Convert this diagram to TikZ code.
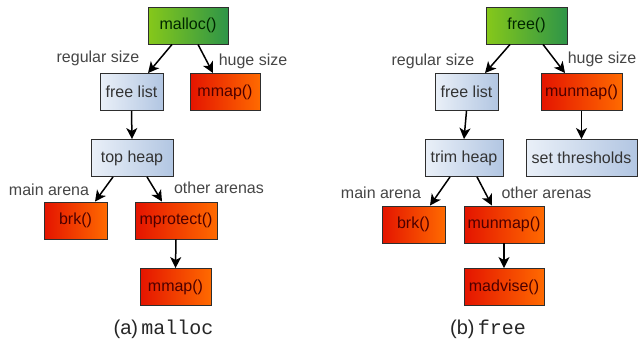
\documentclass[tikz,border=0pt]{standalone}
\usepackage{fontspec}
\setmainfont{Liberation Sans}
\setmonofont{Liberation Mono}
\usetikzlibrary{arrows.meta}
\definecolor{greenL}{HTML}{86C81A}
\definecolor{greenR}{HTML}{2E9548}
\definecolor{redL}{HTML}{E41400}
\definecolor{redR}{HTML}{FF6A00}
\definecolor{blueL}{HTML}{EAF0F8}
\definecolor{blueR}{HTML}{B2C6E2}
\definecolor{edge}{HTML}{2E2E2E}
\definecolor{labelgray}{HTML}{454545}
\tikzset{
  box/.style={draw=edge, line width=0.9pt, inner sep=0pt, minimum height=37pt,
    font=\fontsize{16}{18}\selectfont, shading=axis, shading angle=90},
  callbox/.style={box, left color=greenL, right color=greenR, text=black!85!green},
  listbox/.style={box, left color=blueL, right color=blueR, text=black!80},
  sysbox/.style={box, left color=redL, right color=redR, text=black!70!red},
  flow/.style={-{Stealth[length=11pt,width=11pt,inset=3pt]}, line width=1.5pt, black},
  cond/.style={font=\fontsize{16}{18}\selectfont, text=labelgray, inner sep=0pt},
  caption/.style={font=\fontsize{20}{22}\selectfont, text=black!85, inner sep=0pt}
}
\begin{document}
\begin{tikzpicture}[x=1pt, y=-1pt]
\useasboundingbox (0,0) rectangle (639,346);

% ---- malloc path ----
\node[callbox, minimum width=80pt] (malloc) at (188,25.5) {malloc()};
\node[listbox, minimum width=63pt] (mfree) at (131.5,92) {free list};
\node[sysbox,  minimum width=70pt] (mmapA) at (225,92) {mmap()};
\node[listbox, minimum width=82pt] (mtop) at (132,158) {top heap};
\node[sysbox,  minimum width=63pt] (mbrk) at (75.5,220.5) {brk()};
\node[sysbox,  minimum width=82pt] (mprot) at (176,220.5) {mprotect()};
\node[sysbox,  minimum width=71pt] (mmapB) at (175.5,287) {mmap()};

\draw[flow] ([xshift=-16pt]malloc.south) -- ([xshift=16.5pt]mfree.north);
\draw[flow] ([xshift=10pt]malloc.south) -- ([xshift=-12pt]mmapA.north);
\draw[flow] (mfree.south) -- (mtop.north);
\draw[flow] ([xshift=-19pt]mtop.south) -- ([xshift=19.5pt]mbrk.north);
\draw[flow] ([xshift=15pt]mtop.south) -- ([xshift=-14pt]mprot.north);
\draw[flow] (mprot.south) -- (mmapB.north);

\node[cond] (mreg) at (98,58.5) {regular size};
\node[cond] (mhuge) at (253,61) {huge size};
\node[cond] (mmain) at (49,190) {main arena};
\node[cond] (mother) at (219,187.5) {other arenas};

\node[caption] (capA) at (163.5,329) {(a)\,\texttt{malloc}};

% ---- free path ----
\node[callbox, minimum width=81pt] (free) at (526.5,25.5) {free()};
\node[listbox, minimum width=63pt] (ffree) at (466.5,92) {free list};
\node[sysbox,  minimum width=81pt] (funmapA) at (581.5,92) {munmap()};
\node[listbox, minimum width=78pt] (ftrim) at (464,158) {trim heap};
\node[listbox, minimum width=111pt] (fthr) at (581.5,158) {set thresholds};
\node[sysbox,  minimum width=63pt] (fbrk) at (413.5,224.5) {brk()};
\node[sysbox,  minimum width=80pt] (funmapB) at (504,224.5) {munmap()};
\node[sysbox,  minimum width=80pt] (fmadv) at (504,287) {madvise()};

\draw[flow] ([xshift=-16.5pt]free.south) -- ([xshift=18.5pt]ffree.north);
\draw[flow] ([xshift=16.5pt]free.south) -- ([xshift=-16.5pt]funmapA.north);
\draw[flow] (ffree.south) -- (ftrim.north);
\draw[flow] (funmapA.south) -- (fthr.north);
\draw[flow] ([xshift=-14pt]ftrim.south) -- ([xshift=16.5pt]fbrk.north);
\draw[flow] ([xshift=13pt]ftrim.south) -- ([xshift=-12pt]funmapB.north);
\draw[flow] (funmapB.south) -- (fmadv.north);

\node[cond] (freg) at (433,61) {regular size};
\node[cond] (fhuge) at (602,59.5) {huge size};
\node[cond] (fmain) at (381,193) {main arena};
\node[cond] (fother) at (546.5,193) {other arenas};

\node[caption] (capB) at (488,329) {(b)\,\texttt{free}};
\end{tikzpicture}
\end{document}
